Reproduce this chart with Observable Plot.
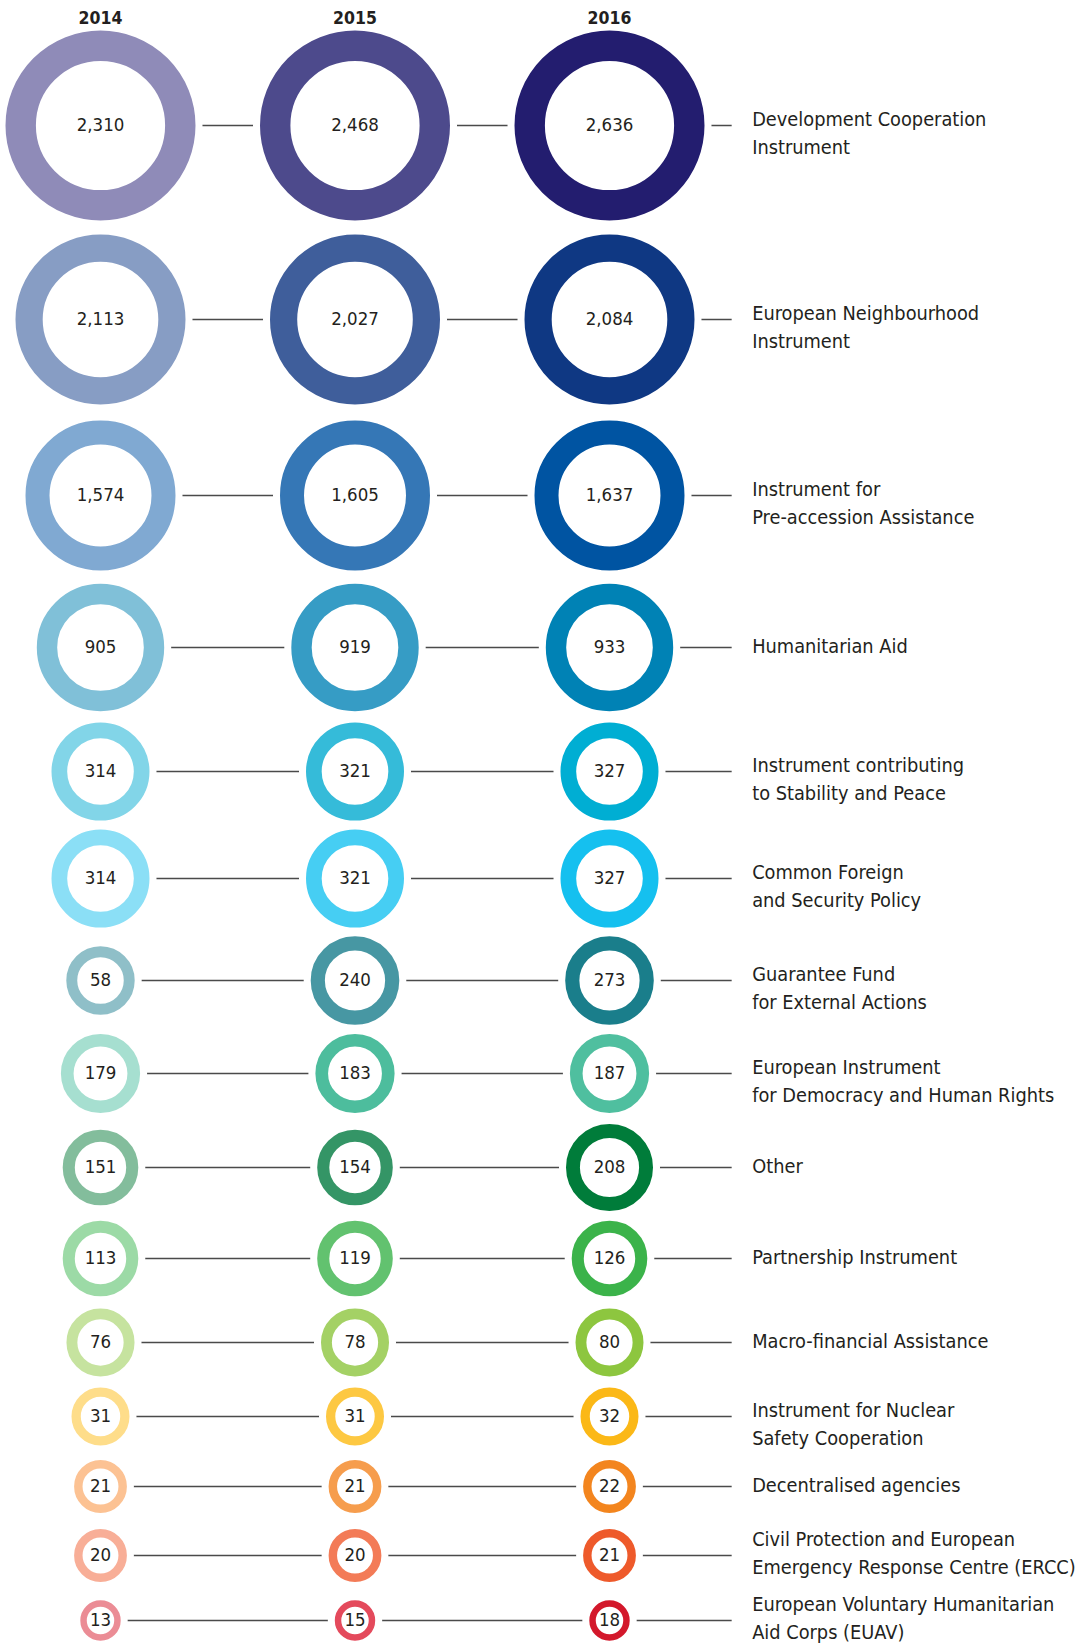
<!DOCTYPE html>
<html>
<head>
<meta charset="utf-8">
<script src="https://cdn.jsdelivr.net/npm/d3@7"></script>
<script src="https://cdn.jsdelivr.net/npm/@observablehq/plot@0.6"></script>
<style>
  html, body { margin: 0; padding: 0; background: #ffffff; }
  #chart svg { display: block; }
</style>
</head>
<body>
<div id="chart"></div>
<script>
// ---------- data ----------
const years = [2014, 2015, 2016];
const categories = [
  "Development Cooperation\nInstrument",
  "European Neighbourhood\nInstrument",
  "Instrument for\nPre-accession Assistance",
  "Humanitarian Aid",
  "Instrument contributing\nto Stability and Peace",
  "Common Foreign\nand Security Policy",
  "Guarantee Fund\nfor External Actions",
  "European Instrument\nfor Democracy and Human Rights",
  "Other",
  "Partnership Instrument",
  "Macro-financial Assistance",
  "Instrument for Nuclear\nSafety Cooperation",
  "Decentralised agencies",
  "Civil Protection and European\nEmergency Response Centre (ERCC)",
  "European Voluntary Humanitarian\nAid Corps (EUAV)"
];
const values2014 = [2310, 2113, 1574, 905, 314, 314, 58, 179, 151, 113, 76, 31, 21, 20, 13];
const values2015 = [2468, 2027, 1605, 919, 321, 321, 240, 183, 154, 119, 78, 31, 21, 20, 15];
const values2016 = [2636, 2084, 1637, 933, 327, 327, 273, 187, 208, 126, 80, 32, 22, 21, 18];
const colors2014 = ["#8f8bb8", "#879dc4", "#80a9d2", "#80c0d8", "#82d5e8", "#8bdff6", "#8fbfc8", "#a6dfd0", "#83bd9c", "#9cdaa6", "#c6e39f", "#fedd8a", "#fcc293", "#f8ae97", "#eb8c95"];
const colors2015 = ["#4d4a8c", "#3f5e9b", "#3577b6", "#369cc5", "#35bbd9", "#46cef3", "#4797a3", "#4dbd9d", "#349566", "#62c26f", "#a4d165", "#fdc842", "#f69d4d", "#f37b57", "#e44a5c"];
const colors2016 = ["#231d6f", "#0f3883", "#0054a2", "#0082b5", "#00aed3", "#15c0ef", "#1a7e8b", "#4fbf9f", "#007c3a", "#3bb34a", "#8dc63f", "#fbb817", "#f3851e", "#ee5a2b", "#d3182b"];

// ---------- layout (scale configuration) ----------
const W = 1087, H = 1643;
const rowCenters = [18, 125, 319, 495, 647, 771, 878, 980, 1073, 1167, 1258, 1342, 1416, 1486, 1555, 1620]; // header + 15 rows
const sizeDomain = [13, 18, 20, 22, 31, 32, 58, 80, 113, 154, 179, 187, 208, 240, 273, 314, 327, 905, 933, 1574, 1637, 2027, 2113, 2310, 2636];
const outerRadius = [20.2, 20.2, 26.4, 26.4, 29, 29, 34.2, 34, 37.8, 37.8, 39.6, 39.6, 43.5, 44.3, 44.3, 49, 49, 63.7, 63.7, 75, 75, 85, 85, 95, 95];
const ringShare = 0.32;      // ring thickness as share of outer radius
const gapPx = 7;             // white gap between circle and connector line
const labelLineEnd = 2016.482;

const rOptions = {type: "linear", domain: sizeDomain, range: outerRadius.map(R => R * (1 - ringShare / 2))};
const rScale = Plot.scale({r: rOptions});
const ringWidth = v => rScale.apply(v) * ringShare / (1 - ringShare / 2);

// ---------- tidy table ----------
const valuesByYear = {2014: values2014, 2015: values2015, 2016: values2016};
const colorsByYear = {2014: colors2014, 2015: colors2015, 2016: colors2016};
const cells = [];
years.forEach(yr => categories.forEach((c, i) => cells.push({
  year: yr, row: i, category: c, value: valuesByYear[yr][i], color: colorsByYear[yr][i]
})));
const rows = categories.map((c, i) => ({row: i, label: c, multi: c.includes("\n")}));

const font = "'DejaVu Sans Condensed', 'Liberation Sans Narrow', 'Roboto', sans-serif";
const labelSize = 19.8;
const labelLH = 1.43;

const chart = Plot.plot({
  width: W,
  height: H,
  margin: 0,
  style: {background: "#ffffff", fontFamily: font},
  x: {type: "linear", domain: [2014, 2016], range: [100, 609], axis: null},
  y: {type: "linear", domain: d3.range(-1, 15), range: rowCenters, axis: null},
  r: rOptions,
  marks: [
    // connector lines
    Plot.ruleY(rows, {y: "row", x1: 2014, x2: labelLineEnd, stroke: "#4a4a4a", strokeWidth: 1.4}),
    // white masks that open a gap around each circle
    Plot.dot(cells, {x: "year", y: "row", r: "value", fill: "#ffffff", stroke: "#ffffff",
      strokeWidth: d => ringWidth(d.value) + 2 * gapPx}),
    // rings
    Plot.dot(cells, {x: "year", y: "row", r: "value", fill: "#ffffff", stroke: "color",
      strokeWidth: d => ringWidth(d.value)}),
    // values
    Plot.text(cells, {x: "year", y: "row", text: d => d3.format(",")(d.value),
      fontSize: 18.5, fill: "#231f20", fontFamily: font}),
    // year headers
    Plot.text(years, {x: d => d, y: () => -1, text: d => String(d),
      fontSize: 17.5, fontWeight: "bold", fill: "#231f20", fontFamily: font}),
    // labels (single line)
    Plot.text(rows.filter(d => !d.multi), {x: labelLineEnd, y: "row", text: "label",
      textAnchor: "start", dx: 20, dy: -0.5, fontSize: labelSize, fill: "#231f20", fontFamily: font}),
    // labels (two lines, upper rows)
    Plot.text(rows.filter(d => d.multi && d.row < 13), {x: labelLineEnd, y: "row", text: "label",
      textAnchor: "start", dx: 20, dy: 5.6, lineHeight: labelLH, fontSize: labelSize, fill: "#231f20", fontFamily: font}),
    // labels (two lines, bottom rows)
    Plot.text(rows.filter(d => d.multi && d.row >= 13), {x: labelLineEnd, y: "row", text: "label",
      textAnchor: "start", dx: 20, dy: -4.5, lineHeight: labelLH, fontSize: labelSize, fill: "#231f20", fontFamily: font})
  ]
});
document.getElementById("chart").append(chart);
</script>
</body>
</html>
